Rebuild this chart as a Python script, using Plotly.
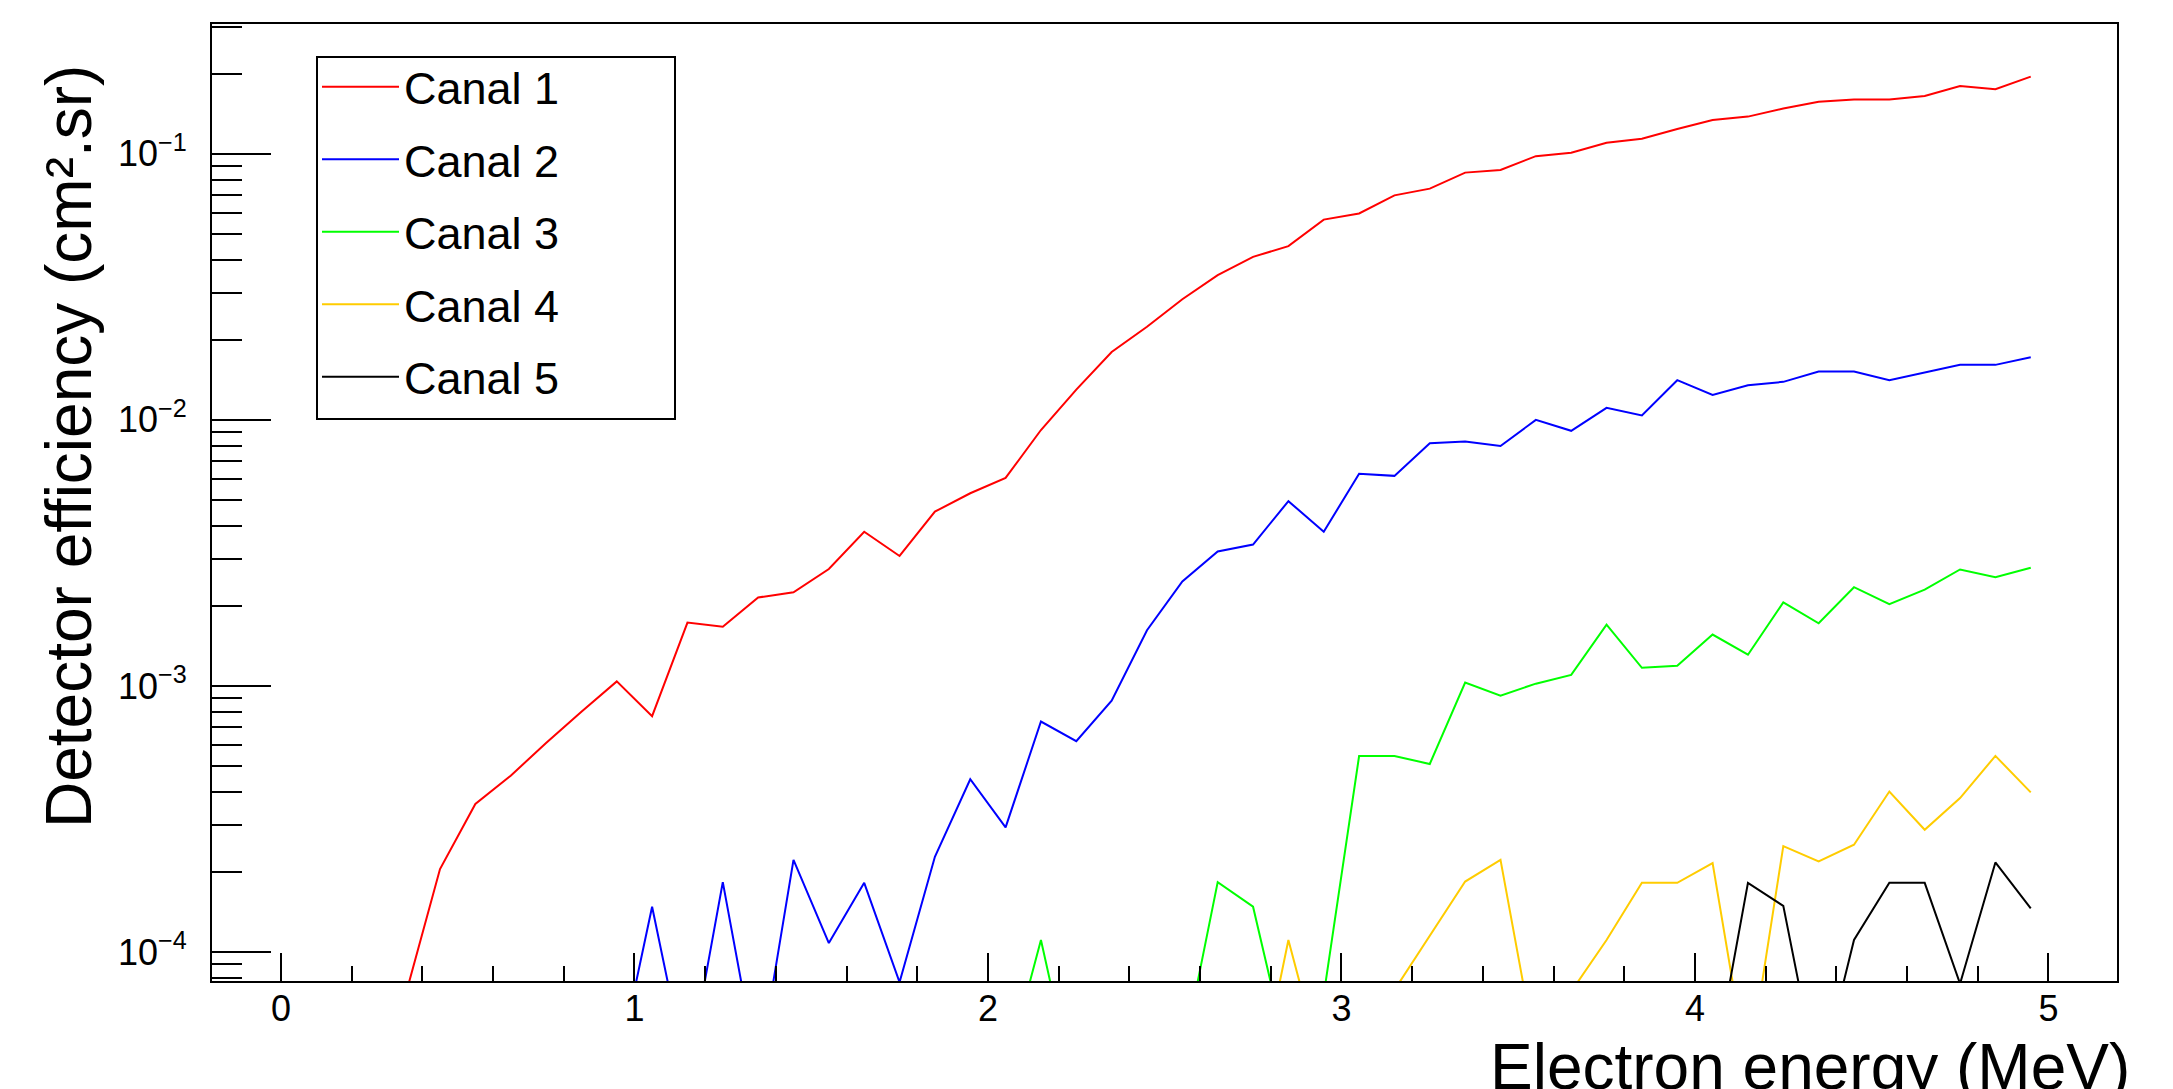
import plotly.graph_objects as go

# Bin centres (MeV)
energy_mev = [0.05, 0.15, 0.25, 0.35, 0.45, 0.55, 0.65, 0.75, 0.85, 0.95,
              1.05, 1.15, 1.25, 1.35, 1.45, 1.55, 1.65, 1.75, 1.85, 1.95,
              2.05, 2.15, 2.25, 2.35, 2.45, 2.55, 2.65, 2.75, 2.85, 2.95,
              3.05, 3.15, 3.25, 3.35, 3.45, 3.55, 3.65, 3.75, 3.85, 3.95,
              4.05, 4.15, 4.25, 4.35, 4.45, 4.55, 4.65, 4.75, 4.85, 4.95]

# Detector efficiency (cm2.sr); 0 = empty bin
canal_1 = [0, 0, 0, 6.7e-5, 2.05e-4, 3.6e-4, 4.6e-4, 6.1e-4, 8.0e-4, 1.04e-3,
           7.7e-4, 1.73e-3, 1.67e-3, 2.15e-3, 2.25e-3, 2.75e-3, 3.80e-3, 3.08e-3, 4.52e-3, 5.3e-3,
           6.05e-3, 9.16e-3, 1.30e-2, 1.80e-2, 2.24e-2, 2.84e-2, 3.5e-2, 4.1e-2, 4.5e-2, 5.66e-2,
           5.97e-2, 6.98e-2, 7.4e-2, 8.5e-2, 8.7e-2, 9.8e-2, 0.101, 0.110, 0.114, 0.124,
           0.134, 0.138, 0.148, 0.157, 0.160, 0.160, 0.165, 0.180, 0.175, 0.195]

canal_2 = [0, 0, 0, 0, 0, 0, 0, 0, 0, 3.5e-5,
           1.48e-4, 3.4e-5, 1.83e-4, 3.5e-5, 2.22e-4, 1.08e-4, 1.82e-4, 7.7e-5, 2.28e-4, 4.46e-4,
           2.94e-4, 7.35e-4, 6.2e-4, 8.8e-4, 1.62e-3, 2.47e-3, 3.2e-3, 3.4e-3, 4.95e-3, 3.8e-3,
           6.27e-3, 6.16e-3, 8.17e-3, 8.3e-3, 7.98e-3, 1.0e-2, 9.1e-3, 1.11e-2, 1.04e-2, 1.41e-2,
           1.24e-2, 1.35e-2, 1.39e-2, 1.52e-2, 1.52e-2, 1.41e-2, 1.51e-2, 1.61e-2, 1.61e-2, 1.72e-2]

canal_3 = [0, 0, 0, 0, 0, 0, 0, 0, 0, 0,
           0, 0, 0, 0, 0, 0, 0, 0, 0, 0,
           3.5e-5, 1.11e-4, 2.8e-5, 0, 0, 4.0e-5, 1.83e-4, 1.48e-4, 4.0e-5, 6.9e-5,
           5.45e-4, 5.45e-4, 5.09e-4, 1.03e-3, 9.2e-4, 1.02e-3, 1.10e-3, 1.70e-3, 1.17e-3, 1.19e-3,
           1.56e-3, 1.31e-3, 2.06e-3, 1.72e-3, 2.35e-3, 2.03e-3, 2.3e-3, 2.74e-3, 2.56e-3, 2.78e-3]

canal_4 = [0, 0, 0, 0, 0, 0, 0, 0, 0, 0,
           0, 0, 0, 0, 0, 0, 0, 0, 0, 0,
           0, 0, 0, 0, 0, 0, 0, 2.5e-5, 1.11e-4, 3.5e-5,
           0, 7.2e-5, 1.15e-4, 1.84e-4, 2.22e-4, 4.2e-5, 7.1e-5, 1.11e-4, 1.82e-4, 1.82e-4,
           2.16e-4, 3.5e-5, 2.5e-4, 2.19e-4, 2.53e-4, 4.01e-4, 2.88e-4, 3.79e-4, 5.46e-4, 3.98e-4]

canal_5 = [0, 0, 0, 0, 0, 0, 0, 0, 0, 0,
           0, 0, 0, 0, 0, 0, 0, 0, 0, 0,
           0, 0, 0, 0, 0, 0, 0, 0, 0, 0,
           0, 0, 0, 0, 0, 0, 0, 0, 0, 0,
           3.4e-5, 1.82e-4, 1.49e-4, 3.2e-5, 1.11e-4, 1.82e-4, 1.82e-4, 7.6e-5, 2.17e-4, 1.46e-4]

series_names = ["Canal 1", "Canal 2", "Canal 3", "Canal 4", "Canal 5"]
series_values = [canal_1, canal_2, canal_3, canal_4, canal_5]
series_colors = ["#ff0000", "#0000ff", "#00ff00", "#ffcc00", "#000000"]

x_tick_values = [0, 1, 2, 3, 4, 5]
x_tick_labels = ["0", "1", "2", "3", "4", "5"]
y_tick_values = [1e-4, 1e-3, 1e-2, 1e-1]
y_tick_labels = ["10<sup>\u22124</sup>", "10<sup>\u22123</sup>", "10<sup>\u22122</sup>", "10<sup>\u22121</sup>"]
y_minor_values = [8e-5, 9e-5,
                  2e-4, 3e-4, 4e-4, 5e-4, 6e-4, 7e-4, 8e-4, 9e-4,
                  2e-3, 3e-3, 4e-3, 5e-3, 6e-3, 7e-3, 8e-3, 9e-3,
                  2e-2, 3e-2, 4e-2, 5e-2, 6e-2, 7e-2, 8e-2, 9e-2,
                  2e-1, 3e-1]

FONT = "Liberation Sans, Arial, Helvetica, sans-serif"

fig = go.Figure()
for name, vals, col in zip(series_names, series_values, series_colors):
    fig.add_trace(go.Scatter(
        x=energy_mev,
        y=[v if v > 0 else None for v in vals],
        mode="lines",
        name=name,
        legendgroup=name,
        line=dict(color=col, width=2),
        connectgaps=False,
    ))

W, H = 2173, 1089
ML, MR, MT, MB = 212, 56, 24, 108
PW, PH = W - ML - MR, H - MT - MB

def px_x(px):
    return (px - ML) / PW

def px_y(py):
    return (H - MB - py) / PH

fig.update_layout(
    width=W, height=H,
    margin=dict(l=ML, r=MR, t=MT, b=MB, pad=0),
    paper_bgcolor="white", plot_bgcolor="white",
    font=dict(family=FONT, color="black"),
    showlegend=True,
    legend=dict(
        x=px_x(317), y=px_y(51), xanchor="left", yanchor="top",
        bgcolor="rgba(0,0,0,0)", borderwidth=0,
        font=dict(size=45, family=FONT, color="black"),
        itemwidth=77, tracegroupgap=11, traceorder="grouped",
    ),
    xaxis=dict(
        range=[-0.195, 5.194],
        showgrid=False, zeroline=False,
        showline=True, linecolor="black", linewidth=2, mirror=True,
        ticks="inside", ticklen=28, tickwidth=2, tickcolor="black",
        tickmode="array", tickvals=x_tick_values, ticktext=x_tick_labels,
        tickfont=dict(size=36, family=FONT, color="black"),
        ticklabelstandoff=-5,
        minor=dict(tick0=0, dtick=0.2, ticks="inside", ticklen=15, tickwidth=2, tickcolor="black"),
    ),
    yaxis=dict(
        type="log", range=[-4.109, -0.512],
        showgrid=False, zeroline=False,
        showline=True, linecolor="black", linewidth=2, mirror=True,
        ticks="inside", ticklen=59, tickwidth=2, tickcolor="black",
        tickmode="array", tickvals=y_tick_values, ticktext=y_tick_labels,
        tickfont=dict(size=36, family=FONT, color="black"),
        ticklabelstandoff=16,
        minor=dict(tickmode="array", tickvals=y_minor_values, ticks="inside",
                   ticklen=30, tickwidth=2, tickcolor="black"),
    ),
    shapes=[dict(type="rect", xref="paper", yref="paper",
                 x0=px_x(317), x1=px_x(675), y0=px_y(419), y1=px_y(57),
                 line=dict(color="black", width=2), fillcolor="white", layer="below")],
    annotations=[
        dict(text="Electron energy (MeV)", xref="paper", yref="paper",
             x=1, y=0, xanchor="right", yanchor="top", xshift=15, yshift=-48,
             showarrow=False, font=dict(size=64, family=FONT, color="black")),
        dict(text="Detector efficiency (cm\u00b2.sr)", xref="paper", yref="paper",
             x=0, y=px_y(447), xanchor="center", yanchor="middle", xshift=-143,
             textangle=-90, showarrow=False,
             font=dict(size=64, family=FONT, color="black")),
    ],
)

fig.write_html("out.html")
